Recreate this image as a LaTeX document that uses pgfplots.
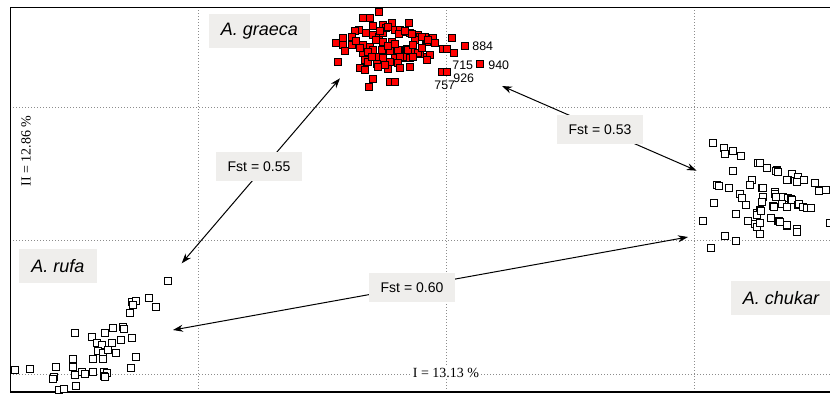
\documentclass[border=0pt]{standalone}
\usepackage{pgfplots}
\pgfplotsset{compat=1.18}
\usepackage{fontspec}
\setmainfont{Liberation Sans}
\newfontfamily\serifx{Liberation Serif}
\usetikzlibrary{arrows.meta}
\definecolor{boxgray}{RGB}{239,238,236}
\definecolor{gridgray}{RGB}{140,140,140}
\begin{document}
\begin{tikzpicture}
\begin{axis}[
  scale only axis, width=410pt, height=192.5pt,
  xmin=10, xmax=830, ymin=7, ymax=392, y dir=reverse,
  axis line style={draw=none},
  xtick={198,446,694}, ytick={107,240.7,374},
  xticklabels={}, yticklabels={},
  tick style={draw=none},
  grid=major,
  major grid style={gridgray, line width=0.4pt, dash pattern=on 0.5pt off 1pt},
  clip=true,
]
% frame
\draw[black, line width=0.6pt] (rel axis cs:1,0) -- (rel axis cs:0,0) -- (rel axis cs:0,1) -- (rel axis cs:1,1);
\coordinate (BL) at (axis cs:0,395);
\coordinate (TR) at (axis cs:830,0);

% arrows
\addplot[black, line width=0.5pt, no marks, {Stealth[length=5pt,width=3.5pt]}-{Stealth[length=5pt,width=3.5pt]}] coordinates {(181.7,263.3) (340,78.3)};
\addplot[black, line width=0.5pt, no marks, {Stealth[length=5pt,width=3.5pt]}-{Stealth[length=5pt,width=3.5pt]}] coordinates {(502,86) (696.7,170.7)};
\addplot[black, line width=0.5pt, no marks, {Stealth[length=5pt,width=3.5pt]}-{Stealth[length=5pt,width=3.5pt]}] coordinates {(173,330) (688,237)};

% A. graeca
\addplot[only marks, mark=square*, mark size=1.9pt, mark options={fill=red, draw=black, line width=0.55pt}] coordinates {
(379,12) (363,18) (370,18) (373,26) (383,25) (392,23) (409,23) (359,30) (355,31) (366,33)
(373,35) (379,37) (383,33) (395,30) (403,32) (400,30) (410,33) (418,35) (420,37) (425,37)
(426,40) (432,39) (433,38) (435,43) (427,42) (343,38) (352,37) (336,43) (343,45) (352,45)
(363,45) (370,47) (383,42) (392,42) (345,51) (363,53) (373,50) (382,50) (390,51) (398,50)
(406,50) (407,49) (413,52) (420,54) (418,53) (427,57) (430,55) (408,50) (365,60) (377,57)
(383,58) (395,58) (405,58) (405,57) (410,58) (413,57) (400,57) (427,60) (338,62) (368,62)
(377,64) (390,62) (398,63) (360,68) (365,70) (378,67) (388,69) (400,68) (410,67) (373,79)
(390,82) (395,82) (369,87) (452,38) (465,46) (443,49) (447,49) (454,53) (480,64) (442,72)
(447,72) (386,28) (399,34) (415,40) (376,40) (356,41) (388,46) (368,52) (395,44) (372,57)
(385,65) (360,48) (413,45) (422,48) (380,31) (388,27) (405,31) (412,34) (422,37) (428,40)
};

% A. chukar
\addplot[only marks, mark=square*, mark size=1.9pt, mark options={fill=white, draw=black, line width=0.6pt}] coordinates {
(713,143) (724,148) (725,154) (733,151) (741,156) (733,171) (758,163) (760,163) (767,168) (777,170)
(776,171) (778,172) (792,174) (788,180) (798,177) (804,180) (815,183) (820,190) (826,190) (819,191)
(787,180) (797,182) (717,185) (719,186) (729,188) (752,180) (750,185) (762,188) (763,188) (740,194)
(742,198) (746,205) (763,197) (775,192) (775,194) (776,197) (783,197) (788,198) (791,199) (792,200)
(714,203) (762,202) (773,206) (774,207) (782,204) (787,207) (798,205) (799,204) (803,207) (807,208)
(811,208) (736,214) (757,213) (760,210) (757,215) (761,211) (703,221) (748,221) (755,224) (771,218)
(778,221) (779,221) (780,222) (787,226) (787,225) (797,229) (797,232) (760,234) (757,227) (760,223)
(725,236) (736,241) (711,248) (830,223)
};

% A. rufa
\addplot[only marks, mark=square*, mark size=1.9pt, mark options={fill=white, draw=black, line width=0.6pt}] coordinates {
(168,281) (132,302) (136,301) (133,305) (130,313) (149,298) (156,307) (75,333) (92,337) (105,333)
(113,328) (123,327) (124,329) (132,338) (121,340) (97,343) (102,345) (112,343) (98,351) (103,353)
(108,350) (116,353) (93,359) (103,359) (73,359) (136,357) (15,370) (30,369) (56,367) (73,367)
(82,372) (85,374) (93,372) (104,372) (107,373) (104,376) (105,377) (75,375) (54,377) (53,379)
(131,368) (76,386) (59,390) (64,389)
};

% point labels
\begin{scope}[every node/.style={font=\fontsize{6.2pt}{7pt}\selectfont, inner sep=0pt, anchor=west}]
\node at (axis cs:472,46) {884};
\node at (axis cs:452,65) {715};
\node at (axis cs:488,65) {940};
\node at (axis cs:453,78) {926};
\node at (axis cs:434,85) {757};
\end{scope}

% Fst labels
\begin{scope}[every node/.style={fill=boxgray, font=\fontsize{7pt}{8pt}\selectfont, minimum width=43pt, minimum height=14.3pt, inner sep=0pt}]
\node at (axis cs:259,166.5) {Fst = 0.55};
\node at (axis cs:600,129.5) {Fst = 0.53};
\node at (axis cs:412,287.5) {Fst = 0.60};
\end{scope}

% species labels
\begin{scope}[every node/.style={fill=boxgray, font=\fontsize{9pt}{10pt}\selectfont\itshape, minimum height=17pt, inner xsep=6pt, inner ysep=0pt}]
\node at (axis cs:259.5,31) {A. graeca};
\node at (axis cs:58,266) {A. rufa};
\node at (axis cs:781,298) {A. chukar};
\end{scope}

% axis labels
\node[fill=white, inner sep=0.6pt, font=\serifx\fontsize{7pt}{8pt}\selectfont] at (axis cs:446,373) {I = 13.13 \%};
\node[fill=white, inner sep=0.6pt, rotate=90, font=\serifx\fontsize{7pt}{8pt}\selectfont] at (axis cs:26,151) {II = 12.86 \%};
\end{axis}
\pgfresetboundingbox
\path[use as bounding box] (BL) rectangle (TR);
\end{tikzpicture}
\end{document}
